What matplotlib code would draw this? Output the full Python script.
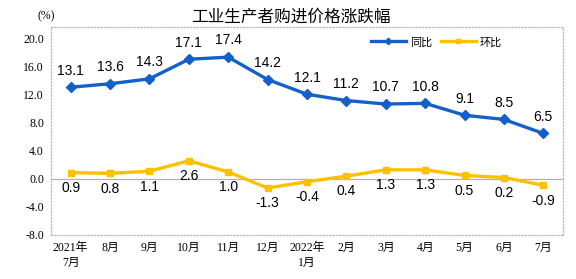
import numpy as np
import matplotlib.pyplot as plt

# 月份标签
meses = ['2021年\n7月', '8月', '9月', '10月', '11月', '12月', '2022年\n1月',
         '2月', '3月', '4月', '5月', '6月', '7月']
tongbi = [13.1, 13.6, 14.3, 17.1, 17.4, 14.2, 12.1, 11.2, 10.7, 10.8, 9.1, 8.5, 6.5]
huanbi = [0.9, 0.8, 1.1, 2.6, 1.0, -1.3, -0.4, 0.4, 1.3, 1.3, 0.5, 0.2, -0.9]
yticks = [-8.0, -4.0, 0.0, 4.0, 8.0, 12.0, 16.0, 20.0]

azul = '#1560C8'
amarillo = '#FFC000'
fuente_tick = ['Liberation Serif', 'Noto Sans CJK SC']
fuente_dato = ['Liberation Sans', 'Noto Sans CJK SC']

fig = plt.figure(figsize=(5.76, 2.79), dpi=100)
ax = fig.add_axes([0.0885, 0.158, 0.889, 0.745])
x = np.arange(len(meses))

ax.plot(x, tongbi, color=azul, lw=2.4, marker='D', ms=5.5, label='同比', zorder=3)
ax.plot(x, huanbi, color=amarillo, lw=2.4, marker='s', ms=5, label='环比', zorder=3)
ax.axhline(0, color='#B0B0B0', lw=0.9, zorder=1)

for i in range(len(x)):
    ax.annotate(f'{tongbi[i]:.1f}', (x[i], tongbi[i]), xytext=(0, 7),
                textcoords='offset points', ha='center', va='bottom',
                fontsize=10, family=fuente_dato)
    ax.annotate(f'{huanbi[i]:.1f}', (x[i], huanbi[i]), xytext=(0, -6),
                textcoords='offset points', ha='center', va='top',
                fontsize=10, family=fuente_dato)

ax.set_xlim(-0.5, len(meses) - 0.5)
ax.set_ylim(-8, 21.7)
ax.set_yticks(yticks)
ax.set_yticklabels([f'{v:.1f}' for v in yticks], family=fuente_tick, fontsize=8.5)
ax.set_xticks(x)
ax.set_xticklabels(meses, family=fuente_tick, fontsize=8.5, linespacing=1.3)
ax.tick_params(length=0, pad=5)

for s in ax.spines.values():
    s.set_linestyle(':')
    s.set_color('#B8B8B8')
    s.set_linewidth(0.9)

fig.text(0.08, 0.94, '(%)', ha='center', va='center', fontsize=8.5, family=fuente_tick)
fig.text(0.505, 0.94, '工业生产者购进价格涨跌幅', ha='center', va='center',
         fontsize=12, family=['Noto Sans CJK SC'])

leg = ax.legend(loc='upper right', bbox_to_anchor=(0.9, 1.0), ncol=2, frameon=False,
                prop={'family': 'Noto Sans CJK SC', 'size': 8}, handlelength=3.2,
                columnspacing=0.8, handletextpad=0.3, markerscale=0.6)

plt.savefig('out.png', dpi=100)
